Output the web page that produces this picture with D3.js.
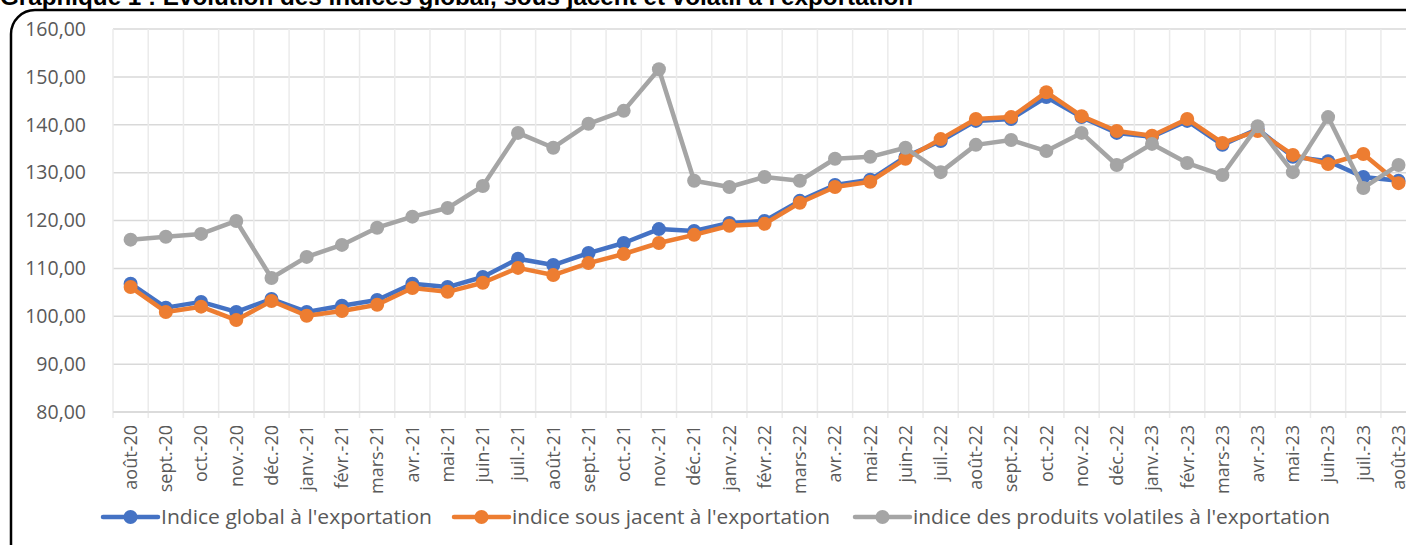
<!DOCTYPE html>
<html>
<head>
<meta charset="utf-8">
<script src="https://cdn.jsdelivr.net/npm/d3@7"></script>
<style>
  html, body { margin: 0; padding: 0; background: #fff; overflow: hidden; }
  svg { display: block; font-family: "Open Sans", sans-serif; }
</style>
</head>
<body>
<svg id="chart" width="1406" height="545"></svg>
<script>
var months = ["août-20","sept.-20","oct.-20","nov.-20","déc.-20","janv.-21","févr.-21","mars-21","avr.-21","mai-21","juin-21","juil.-21",
  "août-21","sept.-21","oct.-21","nov.-21","déc.-21","janv.-22","févr.-22","mars-22","avr.-22","mai-22","juin-22","juil.-22",
  "août-22","sept.-22","oct.-22","nov.-22","déc.-22","janv.-23","févr.-23","mars-23","avr.-23","mai-23","juin-23","juil.-23","août-23"];

var indiceGlobal = [106.8,101.8,103.0,100.9,103.6,100.9,102.2,103.4,106.8,106.1,108.2,112.0,
  110.7,113.2,115.3,118.2,117.8,119.5,119.9,124.1,127.4,128.5,133.3,136.6,
  140.8,141.2,145.8,141.6,138.3,137.5,140.8,135.8,139.1,133.3,132.4,129.1,128.3];

var indiceSousJacent = [106.1,100.9,102.0,99.2,103.2,100.1,101.1,102.4,105.9,105.1,107.0,110.1,
  108.6,111.1,113.0,115.3,117.0,118.9,119.3,123.7,127.0,128.1,132.9,137.0,
  141.2,141.6,146.8,141.8,138.7,137.7,141.2,136.2,138.7,133.7,131.8,133.9,127.8];

var indiceVolatils = [116.0,116.6,117.2,119.9,108.0,112.4,114.9,118.5,120.8,122.6,127.2,138.3,
  135.2,140.2,142.9,151.6,128.3,127.0,129.1,128.3,132.9,133.3,135.2,130.1,
  135.8,136.8,134.5,138.3,131.6,136.0,132.0,129.5,139.7,130.1,141.6,126.8,131.6];

var yTicks = [80,90,100,110,120,130,140,150,160];

var seriesNames = ["Indice global à l'exportation", "indice sous jacent à l'exportation", "indice des produits volatiles à l'exportation"];
var seriesColors = ["#4472C4", "#ED7D31", "#A5A5A5"];
var seriesValues = [indiceGlobal, indiceSousJacent, indiceVolatils];

var svg = d3.select("svg#chart");

var plotLeft = 113, step = 35.22, plotTop = 29, plotBottom = 412;

var x = d3.scaleBand().domain(months).range([plotLeft, plotLeft + step * months.length]).padding(0);
var y = d3.scaleLinear().domain([80, 160]).range([plotBottom, plotTop]);
var cx = function(m) { return x(m) + x.bandwidth() / 2; };

// frame
svg.append("rect")
    .attr("x", 11).attr("y", 10)
    .attr("width", 1430).attr("height", 560)
    .attr("rx", 24).attr("ry", 24)
    .attr("fill", "#fff")
    .attr("stroke", "#000").attr("stroke-width", 2.5);

// title (cut off at top)
svg.append("text")
    .attr("x", 0).attr("y", 5)
    .attr("font-family", "Liberation Sans, Arial, sans-serif")
    .attr("font-weight", "bold")
    .attr("font-size", 23)
    .attr("fill", "#000")
    .attr("textLength", 913)
    .attr("lengthAdjust", "spacingAndGlyphs")
    .text("Graphique 1 : Evolution des indices global, sous jacent et volatil à l'exportation");

// grid
var grid = svg.append("g");
grid.selectAll("line.h").data(yTicks).enter().append("line")
    .attr("class", "h")
    .attr("x1", plotLeft).attr("x2", 1406)
    .attr("y1", function(d) { return y(d); }).attr("y2", function(d) { return y(d); })
    .attr("stroke", "#D9D9D9").attr("stroke-width", 1.5);

grid.selectAll("line.v").data(d3.range(months.length + 1)).enter().append("line")
    .attr("class", "v")
    .attr("x1", function(i) { return plotLeft + i * step; })
    .attr("x2", function(i) { return plotLeft + i * step; })
    .attr("y1", plotTop).attr("y2", plotBottom + 6)
    .attr("stroke", "#EBEBEB").attr("stroke-width", 1.5);

// y axis labels
var yAxis = d3.axisLeft(y).tickValues(yTicks).tickSize(0).tickPadding(0)
    .tickFormat(function(d) { return d3.format(".2f")(d).replace(".", ","); });
var yg = svg.append("g").attr("transform", "translate(86,0)").call(yAxis);
yg.select(".domain").remove();
yg.selectAll("text").attr("font-size", 19.5).attr("fill", "#595959")
    .attr("font-family", "Open Sans, sans-serif");

// x axis
var xAxis = d3.axisBottom(x).tickSize(0).tickPadding(0);
var xg = svg.append("g").attr("transform", "translate(0," + plotBottom + ")").call(xAxis);
xg.select(".domain").remove();
xg.selectAll("text")
    .attr("font-size", 18).attr("fill", "#595959")
    .attr("font-family", "Open Sans, sans-serif")
    .attr("text-anchor", "end")
    .attr("dy", "0.35em")
    .attr("transform", "translate(0,13) rotate(-90)");
svg.append("line").attr("x1", plotLeft).attr("x2", 1406).attr("y1", plotBottom).attr("y2", plotBottom)
    .attr("stroke", "#D9D9D9").attr("stroke-width", 1.5);

// series
var line = d3.line()
    .x(function(d, i) { return cx(months[i]); })
    .y(function(d) { return y(d); });

seriesValues.forEach(function(vals, s) {
  var g = svg.append("g");
  g.append("path")
      .attr("d", line(vals))
      .attr("fill", "none")
      .attr("stroke", seriesColors[s])
      .attr("stroke-width", 4.5)
      .attr("stroke-linejoin", "round");
  g.selectAll("circle").data(vals).enter().append("circle")
      .attr("cx", function(d, i) { return cx(months[i]); })
      .attr("cy", function(d) { return y(d); })
      .attr("r", 7)
      .attr("fill", seriesColors[s]);
});

// legend
var legendX = [103, 454, 855];
var legend = svg.selectAll("g.legend").data(seriesNames).enter().append("g")
    .attr("class", "legend")
    .attr("transform", function(d, i) { return "translate(" + legendX[i] + ",517)"; });
legend.append("line")
    .attr("x1", 0).attr("x2", 55)
    .attr("stroke", function(d, i) { return seriesColors[i]; })
    .attr("stroke-width", 4.5).attr("stroke-linecap", "round");
legend.append("circle")
    .attr("cx", 27.5).attr("r", 7)
    .attr("fill", function(d, i) { return seriesColors[i]; });
legend.append("text")
    .attr("x", 58).attr("dy", "0.35em")
    .attr("font-size", 20).attr("fill", "#595959")
    .attr("font-family", "Open Sans, sans-serif")
    .attr("textLength", function(d, i) { return [271, 318, 417][i]; })
    .attr("lengthAdjust", "spacingAndGlyphs")
    .text(function(d) { return d; });
</script>
</body>
</html>
